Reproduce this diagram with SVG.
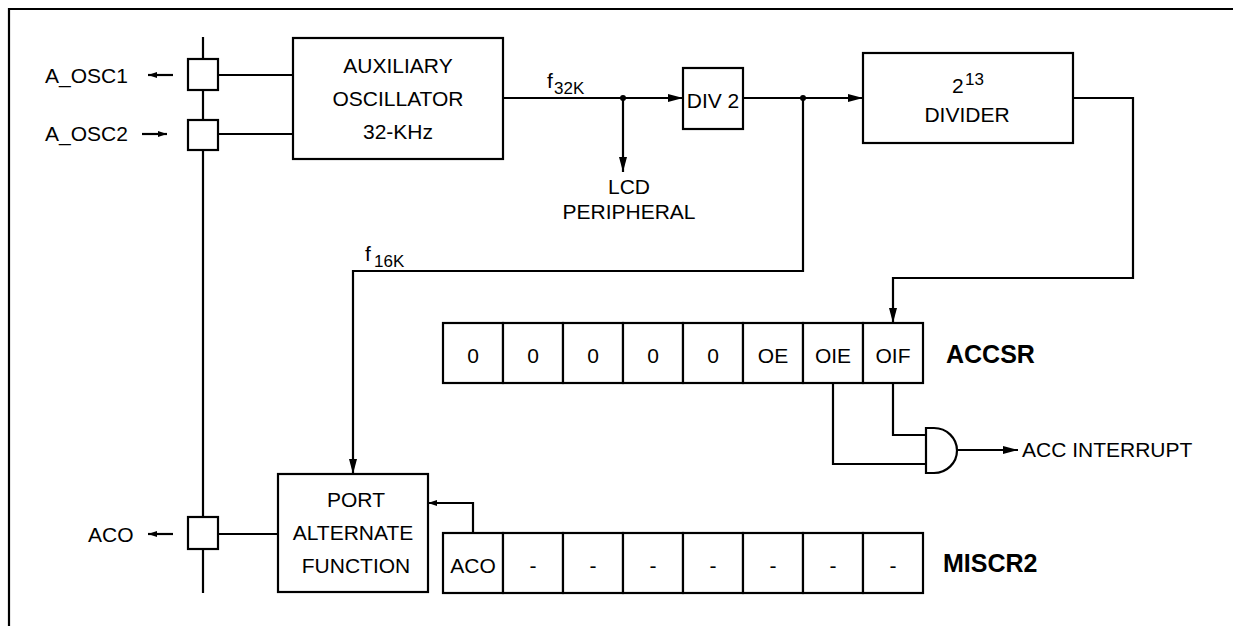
<svg xmlns="http://www.w3.org/2000/svg" width="1233" height="626" viewBox="0 0 1233 626">
<style>
.ln{fill:none;stroke:#000;stroke-width:2.2}
.bx{fill:#fff;stroke:#000;stroke-width:2.2}
.t{font-family:"Liberation Sans",Arial,sans-serif;font-size:21px;fill:#000}
.s{font-family:"Liberation Sans",Arial,sans-serif;font-size:17px;fill:#000}
.c{text-anchor:middle}
.b{font-family:"Liberation Sans",Arial,sans-serif;font-size:25px;font-weight:bold;fill:#000}
</style>
<defs>
<marker id="ah" markerWidth="15" markerHeight="8" refX="15" refY="4" orient="auto" markerUnits="userSpaceOnUse">
<path d="M0,0 L15,4 L0,8 z" fill="#000"/>
</marker>
<marker id="sh" markerWidth="9" markerHeight="6" refX="9" refY="3" orient="auto" markerUnits="userSpaceOnUse">
<path d="M0,0 L9,3 L0,6 z" fill="#000"/>
</marker>
</defs>
<rect width="1233" height="626" fill="#fff"/>
<g id="frame">
<path class="ln" d="M9,626 V9 H1233" stroke-width="2.6"/>
</g>
<g id="connectors">
<path class="ln" d="M203,37 V593"/>
<path class="ln" d="M218,75 H293"/>
<path class="ln" d="M218,134 H293"/>
<path class="ln" d="M218,534 H278"/>
<path class="ln" d="M173,75 H148" marker-end="url(#sh)"/>
<path class="ln" d="M142,134 H167" marker-end="url(#sh)"/>
<path class="ln" d="M173,534 H148" marker-end="url(#sh)"/>
<path class="ln" d="M503,98 H683" marker-end="url(#ah)"/>
<path class="ln" d="M623,98 V172" marker-end="url(#ah)"/>
<circle cx="623" cy="98" r="3" fill="#000"/>
<path class="ln" d="M743,98 H863" marker-end="url(#ah)"/>
<circle cx="803" cy="98" r="3" fill="#000"/>
<path class="ln" d="M803,98 V271 H353 V474" marker-end="url(#ah)"/>
<path class="ln" d="M1073,98 H1133 V278 H893 V323" marker-end="url(#ah)"/>
<path class="ln" d="M833,383 V464 H926"/>
<path class="ln" d="M893,383 V435 H926"/>
<path class="ln" d="M957,450 H1018" marker-end="url(#ah)"/>
<path class="ln" d="M473,533 V503 H428" marker-end="url(#sh)"/>
</g>
<g id="pin-aosc1"><rect class="bx" x="188" y="59" width="30" height="31"/></g>
<g id="pin-aosc2"><rect class="bx" x="188" y="120" width="30" height="30"/></g>
<g id="pin-aco"><rect class="bx" x="188" y="517" width="30" height="32"/></g>
<g id="label-aosc1"><text class="t" x="45" y="83">A_OSC1</text></g>
<g id="label-aosc2"><text class="t" x="45" y="141">A_OSC2</text></g>
<g id="label-aco"><text class="t" x="88" y="542">ACO</text></g>
<g id="aux-osc">
<rect class="bx" x="293" y="38" width="210" height="121"/>
<text class="t c" x="398" y="73">AUXILIARY</text>
<text class="t c" x="398" y="106">OSCILLATOR</text>
<text class="t c" x="398" y="139">32-KHz</text>
</g>
<g id="f32k"><text class="t" x="547" y="88">f</text><text class="s" x="554" y="94">32K</text></g>
<g id="lcd">
<text class="t c" x="629" y="194">LCD</text>
<text class="t c" x="629" y="219">PERIPHERAL</text>
</g>
<g id="div2">
<rect class="bx" x="683" y="68" width="60" height="61"/>
<text class="t c" x="713" y="108">DIV 2</text>
</g>
<g id="divider">
<rect class="bx" x="863" y="53" width="210" height="90"/>
<text class="t" x="952" y="93">2</text><text class="s" x="965" y="85">13</text>
<text class="t c" x="967" y="122">DIVIDER</text>
</g>
<g id="f16k"><text class="t" x="365" y="261">f</text><text class="s" x="374" y="267">16K</text></g>
<g id="accsr">
<rect class="bx" x="443" y="323" width="60" height="60"/>
<rect class="bx" x="503" y="323" width="60" height="60"/>
<rect class="bx" x="563" y="323" width="60" height="60"/>
<rect class="bx" x="623" y="323" width="60" height="60"/>
<rect class="bx" x="683" y="323" width="60" height="60"/>
<rect class="bx" x="743" y="323" width="60" height="60"/>
<rect class="bx" x="803" y="323" width="60" height="60"/>
<rect class="bx" x="863" y="323" width="60" height="60"/>
<text class="t c" x="473" y="363">0</text>
<text class="t c" x="533" y="363">0</text>
<text class="t c" x="593" y="363">0</text>
<text class="t c" x="653" y="363">0</text>
<text class="t c" x="713" y="363">0</text>
<text class="t c" x="773" y="363">OE</text>
<text class="t c" x="833" y="363">OIE</text>
<text class="t c" x="893" y="363">OIF</text>
<text class="b" x="946" y="363">ACCSR</text>
</g>
<g id="and-gate">
<path class="bx" d="M926,428 H934 A23,22.5 0 0 1 934,473 H926 Z"/>
<text class="t" x="1022" y="457">ACC INTERRUPT</text>
</g>
<g id="paf">
<rect class="bx" x="278" y="474" width="150" height="118"/>
<text class="t c" x="356" y="507">PORT</text>
<text class="t c" x="353" y="540">ALTERNATE</text>
<text class="t c" x="356" y="573">FUNCTION</text>
</g>
<g id="miscr2">
<rect class="bx" x="443" y="533" width="60" height="60"/>
<rect class="bx" x="503" y="533" width="60" height="60"/>
<rect class="bx" x="563" y="533" width="60" height="60"/>
<rect class="bx" x="623" y="533" width="60" height="60"/>
<rect class="bx" x="683" y="533" width="60" height="60"/>
<rect class="bx" x="743" y="533" width="60" height="60"/>
<rect class="bx" x="803" y="533" width="60" height="60"/>
<rect class="bx" x="863" y="533" width="60" height="60"/>
<text class="t c" x="473" y="573">ACO</text>
<text class="t c" x="533" y="573">-</text>
<text class="t c" x="593" y="573">-</text>
<text class="t c" x="653" y="573">-</text>
<text class="t c" x="713" y="573">-</text>
<text class="t c" x="773" y="573">-</text>
<text class="t c" x="833" y="573">-</text>
<text class="t c" x="893" y="573">-</text>
<text class="b" x="943" y="572">MISCR2</text>
</g>
</svg>
